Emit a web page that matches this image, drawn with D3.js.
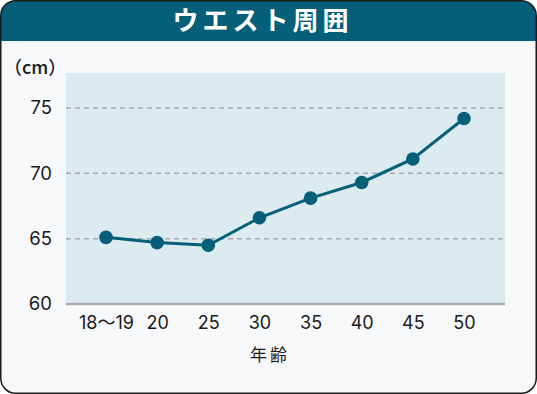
<!DOCTYPE html>
<html lang="ja">
<head>
<meta charset="UTF-8">
<title>ウエスト周囲</title>
<script src="https://d3js.org/d3.v7.min.js"></script>
<style>
  body { margin: 0; background: #fff; }
  text { font-family: "Noto Sans CJK JP", "Noto Sans", sans-serif; }
</style>
</head>
<body>
<svg id="chart" width="537" height="394"></svg>
<script>
// data
const ages = ["18〜19", "20", "25", "30", "35", "40", "45", "50"];
const waist = [65.1, 64.7, 64.5, 66.6, 68.1, 69.3, 71.1, 74.2];
const yTicks = [60, 65, 70, 75];
const title = "ウエスト周囲";
const yUnit = "（cm）";
const xTitle = "年齢";

const svg = d3.select("#chart");
const W = 537, H = 394;
const teal = "#055f78";
const numFont = "Inter, 'Noto Sans CJK JP', sans-serif";

// card
const clip = svg.append("defs").append("clipPath").attr("id", "card");
clip.append("rect").attr("x", 1).attr("y", 1).attr("width", W - 2).attr("height", H - 2).attr("rx", 15);

svg.append("rect").attr("x", 1).attr("y", 1).attr("width", W - 2).attr("height", H - 2)
  .attr("rx", 15).attr("fill", "#f7f8fa");
svg.append("rect").attr("x", 0).attr("y", 0).attr("width", W).attr("height", 41)
  .attr("fill", teal).attr("clip-path", "url(#card)");
svg.append("rect").attr("x", 0.75).attr("y", 0.75).attr("width", W - 1.5).attr("height", H - 1.5)
  .attr("rx", 15).attr("fill", "none").attr("stroke", "#1a1a1a").attr("stroke-width", 1.5);

svg.append("text").attr("x", W / 2 - 6).attr("y", 30)
  .attr("text-anchor", "middle").attr("fill", "#fff")
  .attr("font-size", 26).attr("font-weight", "bold").attr("letter-spacing", 4)
  .text(title);

// scales
const plot = { left: 66, right: 505, top: 73, bottom: 304 };
const x = d3.scalePoint().domain(ages).range([106, 464]);
const y = d3.scaleLinear().domain([60, 75]).range([plot.bottom, 108]);

svg.append("rect").attr("x", plot.left).attr("y", plot.top)
  .attr("width", plot.right - plot.left).attr("height", plot.bottom - plot.top)
  .attr("fill", "#dcebf0");

// grid
svg.append("g").selectAll("line").data(yTicks.filter(d => d > 60)).join("line")
  .attr("x1", plot.left).attr("x2", plot.right)
  .attr("y1", d => y(d)).attr("y2", d => y(d))
  .attr("stroke", "#aaaaaa").attr("stroke-width", 1.5).attr("stroke-dasharray", "5,4");

// axes
const yAxis = svg.append("g").attr("transform", `translate(${plot.left},0)`)
  .call(d3.axisLeft(y).tickValues(yTicks).tickSize(0).tickPadding(14));
yAxis.select(".domain").remove();
yAxis.selectAll("text").attr("font-size", 18.5).attr("fill", "#1a1a1a")
  .style("font-family", numFont);

const xAxis = svg.append("g").attr("transform", `translate(0,${plot.bottom})`)
  .call(d3.axisBottom(x).tickSize(0).tickPadding(12));
xAxis.select(".domain").attr("d", `M${plot.left},0H${plot.right}`)
  .attr("stroke", "#aaaaaa").attr("stroke-width", 2.5);
xAxis.selectAll("text").attr("font-size", 18).attr("fill", "#1a1a1a")
  .style("font-family", numFont);

svg.append("text").attr("x", 4).attr("y", 74).attr("font-size", 18)
  .attr("font-weight", 500).attr("fill", "#1a1a1a").text(yUnit);
svg.append("text").attr("x", 270).attr("y", 361).attr("text-anchor", "middle")
  .attr("font-size", 17).attr("letter-spacing", 3).attr("fill", "#1a1a1a").text(xTitle);

// line + points
const pts = ages.map((a, i) => ({ a, v: waist[i] }));
svg.append("path").datum(pts)
  .attr("fill", "none").attr("stroke", teal).attr("stroke-width", 3)
  .attr("d", d3.line().x(d => x(d.a)).y(d => y(d.v)));
svg.append("g").selectAll("circle").data(pts).join("circle")
  .attr("cx", d => x(d.a)).attr("cy", d => y(d.v)).attr("r", 6.8).attr("fill", teal);
</script>
</body>
</html>
